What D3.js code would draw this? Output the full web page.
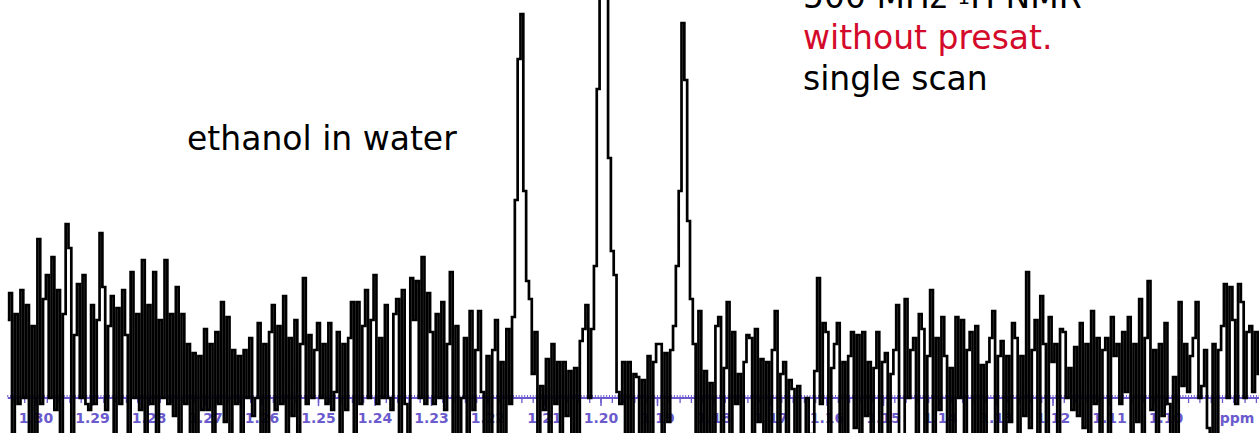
<!DOCTYPE html>
<html>
<head>
<meta charset="utf-8">
<script src="https://cdn.jsdelivr.net/npm/d3@7"></script>
<style>
  html, body { margin: 0; padding: 0; background: #fff; overflow: hidden; }
  svg { display: block; }
</style>
</head>
<body>
<svg id="chart" width="1259" height="433"></svg>
<script>
// ---- data ----
const ppmStart = 1.3050;      // first sample (ppm)
const ppmStep = 0.0005;       // sampling interval (ppm)
const intensity = [
  20,29,-30,22,-8,30,-6,25,-36,18,
  -28,47,-8,27,35,-6,41,-10,30,-32,
  22,52,44,-30,15,32,-6,35,-8,-10,
  25,-8,20,49,31,-10,18,28,-34,24,
  -8,30,15,-32,36,-6,22,-10,40,-30,
  25,-8,36,-28,20,-6,40,-8,22,-12,
  31,-30,22,-8,12,-26,9,-34,8,-10,
  17,-10,12,-28,16,-8,26,-14,21,-32,
  10,-8,8,-36,10,-6,14,-12,-6,19,
  -26,12,-30,16,25,-10,18,-8,28,-34,
  14,-12,20,-28,12,34,-8,15,-6,10,
  19,-6,12,-8,19,-10,-4,16,-30,12,
  -10,14,26,-28,26,-8,18,30,-6,20,
  35,-8,14,-6,25,-6,-10,22,27,-32,
  30,-8,-28,34,20,33,-6,41,-8,29,
  16,-8,22,-6,26,-10,12,36,-30,18,
  -34,-6,14,-30,23,-10,10,23,-4,-34,
  8,-26,10,20,-32,6,-18,17,-8,21,
  60,107,122,63,33,27,2,16,-24,-2,
  -10,7,-26,12,-8,6,-28,6,-12,3,
  -24,4,-30,13,17,25,-6,17,38,97,
  200,250,195,74,43,35,-4,-8,6,-30,
  6,-24,2,1,-34,0,-20,8,-26,6,
  12,12,-20,9,-14,10,18,38,63,119,
  100,53,27,12,-18,23,-30,3,-38,-1,
  -28,18,21,-26,4,26,-34,16,-8,2,
  -36,6,15,14,-26,17,-14,7,-40,6,
  -24,10,23,-30,2,6,-38,0,-3,-30,
  -2,-20,-36,-6,-18,-28,3,34,-8,19,
  16,-30,4,12,19,-26,6,-34,8,16,
  -16,15,-28,16,-12,6,-32,4,16,-24,
  6,9,-34,2,10,25,-20,-36,27,-6,
  10,14,-28,22,17,-22,8,30,-32,14,
  -10,21,8,-36,4,-24,21,-6,20,-32,
  10,16,-18,18,-28,5,-38,6,14,23,
  -26,8,13,-30,8,-14,19,14,-22,8,
  -12,36,-16,10,20,-28,28,12,-32,21,
  6,12,-34,17,16,-6,4,-10,11,-12,
  19,-16,12,-32,23,-8,14,-26,10,14,
  -36,21,8,12,-8,16,-4,21,-28,12,
  -14,27,-32,14,33,-10,10,-34,12,-12,
  19,-8,-26,1,-30,26,-2,12,-4,8,
  14,26,-6,-2,10,-16,-28,12,-30,10,
  18,32,-6,31,20,-8,32,26,-6,16,
  18,-4,16,2
];
const tickValues = [1.30,1.29,1.28,1.27,1.26,1.25,1.24,1.23,1.22,1.21,1.20,1.19,1.18,1.17,1.16,1.15,1.14,1.13,1.12,1.11,1.10];
const tickLabels = ["1.30","1.29","1.28","1.27","1.26","1.25","1.24","1.23","1.22","1.21","1.20","1.19","1.18","1.17","1.16","1.15","1.14","1.13","1.12","1.11","1.10"];
const axisUnit = "ppm";
const titleLines = ["500 MHz ", "1", "H NMR"];
const line2 = "without presat.";
const line3 = "single scan";
const sampleLabel = "ethanol in water";

// ---- scales ----
const W = 1259, H = 433;
const svg = d3.select("#chart");
const ppmEnd = ppmStart - ppmStep * (intensity.length - 1);
const x = d3.scaleLinear().domain([1.30, 1.10]).range([36, 1166]);
const y = d3.scaleLinear().domain([0, 100]).range([380, 80]);

const axisColor = "#6a5acd";
const axisY = 398;

// ---- axis ----
const gAxis = svg.append("g");
gAxis.append("line")
  .attr("x1", x(ppmStart)).attr("x2", W)
  .attr("y1", axisY).attr("y2", axisY)
  .attr("stroke", axisColor).attr("stroke-width", 2);

const fine = d3.range(0, Math.round((ppmStart - ppmEnd) / 0.0005) + 1).map(k => ppmStart - k * 0.0005);
gAxis.selectAll("line.fine").data(fine).join("line")
  .attr("class", "fine")
  .attr("x1", d => x(d)).attr("x2", d => x(d))
  .attr("y1", axisY - 3).attr("y2", axisY - 1)
  .attr("stroke", axisColor).attr("stroke-width", 1);

const minor = d3.range(0, 111).map(k => 1.304 - k * 0.002).filter(v => v >= ppmEnd);
gAxis.selectAll("line.minor").data(minor).join("line")
  .attr("class", "minor")
  .attr("x1", d => x(d)).attr("x2", d => x(d))
  .attr("y1", axisY).attr("y2", axisY + 5)
  .attr("stroke", axisColor).attr("stroke-width", 1.3);

gAxis.selectAll("line.major").data(tickValues).join("line")
  .attr("class", "major")
  .attr("x1", d => x(d)).attr("x2", d => x(d))
  .attr("y1", axisY).attr("y2", axisY + 8)
  .attr("stroke", axisColor).attr("stroke-width", 1.5);

gAxis.selectAll("text.tl").data(tickValues).join("text")
  .attr("class", "tl")
  .attr("x", d => x(d)).attr("y", 423)
  .attr("text-anchor", "middle")
  .attr("font-family", "DejaVu Sans, Verdana, sans-serif")
  .attr("font-weight", "bold").attr("font-size", 14)
  .attr("fill", axisColor)
  .text((d, i) => tickLabels[i]);

gAxis.append("text")
  .attr("x", 1237).attr("y", 423)
  .attr("text-anchor", "middle")
  .attr("font-family", "DejaVu Sans, Verdana, sans-serif")
  .attr("font-weight", "bold").attr("font-size", 14)
  .attr("fill", axisColor)
  .text(axisUnit);

// ---- spectrum ----
const pts = intensity.map((v, i) => [ppmStart - i * ppmStep, v]);
const lineGen = d3.line().x(d => x(d[0])).y(d => y(d[1])).curve(d3.curveStep);
svg.append("path")
  .attr("d", lineGen(pts))
  .attr("fill", "none")
  .attr("stroke", "#000")
  .attr("stroke-width", 2.7)
  .attr("stroke-linejoin", "miter");

// ---- annotations ----
const font = "DejaVu Sans, Verdana, sans-serif";
const t1 = svg.append("text").attr("x", 803).attr("y", 8)
  .attr("font-family", font).attr("font-size", 33).attr("fill", "#000");
t1.append("tspan").text(titleLines[0]);
t1.append("tspan").attr("font-size", 20).attr("dy", -4).text(titleLines[1]);
t1.append("tspan").attr("dy", 4).text(titleLines[2]);

svg.append("text").attr("x", 803).attr("y", 49)
  .attr("font-family", font).attr("font-size", 33).attr("fill", "#d40a2b")
  .text(line2);
svg.append("text").attr("x", 803).attr("y", 90)
  .attr("font-family", font).attr("font-size", 33).attr("fill", "#000")
  .text(line3);
svg.append("text").attr("x", 187).attr("y", 150)
  .attr("font-family", font).attr("font-size", 33).attr("fill", "#000")
  .text(sampleLabel);
</script>
</body>
</html>
